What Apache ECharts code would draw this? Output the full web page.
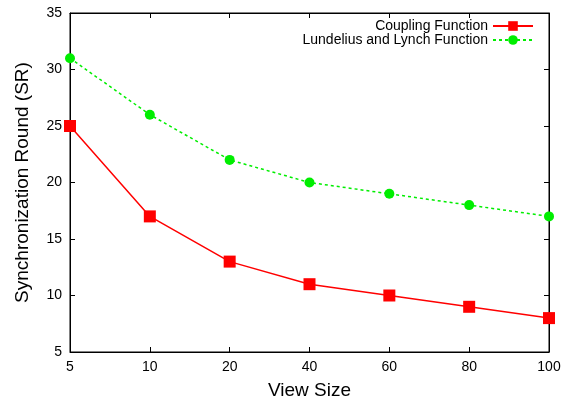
<!DOCTYPE html>
<html>
<head>
<meta charset="utf-8">
<script src="https://cdn.jsdelivr.net/npm/echarts@6/dist/echarts.min.js"></script>
<style>
  html, body { margin: 0; padding: 0; background: #fff; }
  #chart { width: 566px; height: 397px; }
</style>
</head>
<body>
<div id="chart"></div>
<script>
var viewSizes = ['5', '10', '20', '40', '60', '80', '100']
var couplingRounds = [25, 17, 13, 11, 10, 9, 8]
var lundeliusRounds = [31, 26, 22, 20, 19, 18, 17]

var font = 'Liberation Sans, Arial, sans-serif'
var chart = echarts.init(document.getElementById('chart'))

chart.setOption({
    animation: false,
    textStyle: { fontFamily: font },
    grid: {
        left: 70,
        right: 17,
        top: 13,
        bottom: 45,
        outerBoundsMode: 'none',
        show: true,
        borderColor: '#000',
        borderWidth: 1
    },
    legend: {
        orient: 'vertical',
        right: 27,
        top: 14,
        align: 'right',
        itemWidth: 40,
        itemHeight: 12,
        itemGap: 0,
        textStyle: { fontSize: 14, lineHeight: 14, color: '#000', fontFamily: font },
        data: ['Coupling Function', 'Lundelius and Lynch Function']
    },
    xAxis: [{
        type: 'category',
        data: viewSizes,
        boundaryGap: false,
        name: 'View Size',
        nameLocation: 'middle',
        nameGap: 29,
        nameTextStyle: { fontSize: 19, color: '#000' },
        axisLine: { lineStyle: { color: '#000' } },
        axisTick: { inside: true, length: 5, lineStyle: { color: '#000' } },
        axisLabel: { fontSize: 14, color: '#000', margin: 8 },
        splitLine: { show: false }
    }, {
        type: 'category',
        data: viewSizes,
        boundaryGap: false,
        position: 'top',
        axisLine: { lineStyle: { color: '#000' } },
        axisTick: { inside: true, length: 5, lineStyle: { color: '#000' } },
        axisLabel: { show: false },
        splitLine: { show: false }
    }],
    yAxis: [{
        type: 'value',
        min: 5,
        max: 35,
        interval: 5,
        name: 'Synchronization Round (SR)',
        nameLocation: 'middle',
        nameGap: 38,
        nameTextStyle: { fontSize: 19, color: '#000' },
        axisLine: { show: true, lineStyle: { color: '#000' } },
        axisTick: { show: true, inside: true, length: 5, lineStyle: { color: '#000' } },
        axisLabel: { fontSize: 14, color: '#000', margin: 8 },
        splitLine: { show: false }
    }, {
        type: 'value',
        min: 5,
        max: 35,
        interval: 5,
        position: 'right',
        axisLine: { show: true, lineStyle: { color: '#000' } },
        axisTick: { show: true, inside: true, length: 5, lineStyle: { color: '#000' } },
        axisLabel: { show: false },
        splitLine: { show: false }
    }],
    series: [{
        name: 'Coupling Function',
        type: 'line',
        data: couplingRounds,
        symbol: 'rect',
        symbolSize: 12,
        color: '#ff0000',
        lineStyle: { width: 1.5, color: '#ff0000' },
        itemStyle: { color: '#ff0000' }
    }, {
        name: 'Lundelius and Lynch Function',
        type: 'line',
        data: lundeliusRounds,
        symbol: 'circle',
        symbolSize: 10,
        color: '#00ee00',
        lineStyle: { width: 1.5, type: [3, 3], color: '#00ee00' },
        itemStyle: { color: '#00ee00' }
    }]
})
</script>
</body>
</html>
